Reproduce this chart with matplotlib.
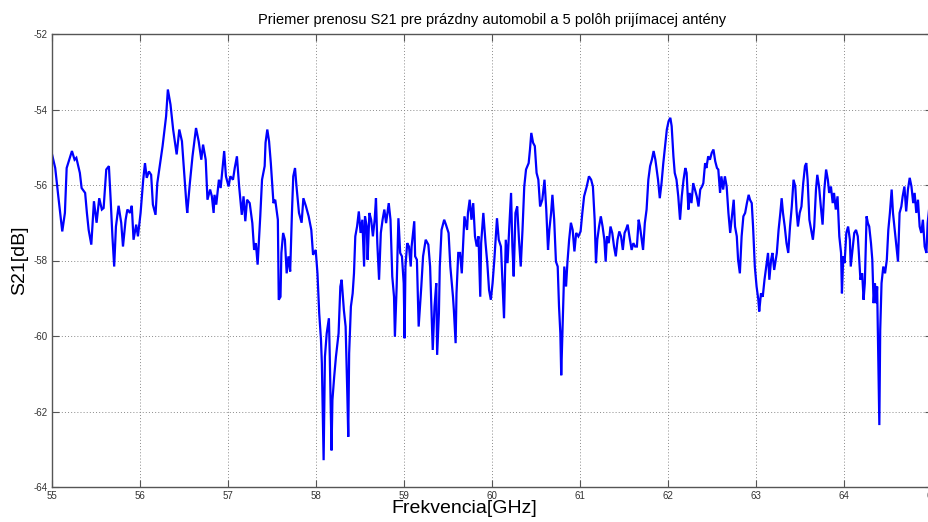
import matplotlib
matplotlib.use('Agg')
import matplotlib.pyplot as plt

# measured transfer S21, frequency [GHz] / magnitude [dB]
freq_ghz = [
    55.0, 55.04, 55.075, 55.12, 55.15, 55.17, 55.23, 55.26, 55.28, 55.32, 55.34, 55.38, 55.40, 55.42, 55.45,
    55.48, 55.51, 55.54, 55.57, 55.59, 55.62, 55.65, 55.67, 55.69, 55.71, 55.73, 55.76, 55.79, 55.81, 55.84,
    55.86, 55.89, 55.91, 55.93, 55.96, 55.98, 56.01, 56.04, 56.06, 56.08, 56.105, 56.13, 56.15, 56.18, 56.20,
    56.23, 56.26, 56.30, 56.32, 56.35, 56.38, 56.42, 56.45, 56.48, 56.50, 56.53, 56.54, 56.57, 56.60, 56.64,
    56.67, 56.70, 56.72, 56.75, 56.77, 56.80, 56.82, 56.84, 56.85, 56.87, 56.90, 56.92, 56.94, 56.96, 56.98,
    57.01, 57.03, 57.06, 57.08, 57.105, 57.13, 57.16, 57.18, 57.20, 57.22, 57.25, 57.28, 57.30, 57.32, 57.34,
    57.37, 57.39, 57.42, 57.43, 57.45, 57.47, 57.49, 57.52, 57.54, 57.57, 57.58, 57.60, 57.61, 57.63, 57.65,
    57.67, 57.69, 57.71, 57.73, 57.745, 57.765, 57.78, 57.81, 57.84, 57.86, 57.89, 57.92, 57.95, 57.97, 58.0,
    58.02, 58.04, 58.06, 58.07, 58.09, 58.105, 58.125, 58.15, 58.16, 58.18, 58.19, 58.21, 58.23, 58.26, 58.28,
    58.295, 58.32, 58.34, 58.36, 58.37, 58.38, 58.40, 58.42, 58.435, 58.45, 58.47, 58.49, 58.51, 58.53, 58.55,
    58.56, 58.58, 58.59, 58.61, 58.63, 58.65, 58.67, 58.685, 58.70, 58.72, 58.74, 58.76, 58.78, 58.80, 58.82,
    58.83, 58.85, 58.87, 58.89, 58.90, 58.92, 58.94, 58.96, 58.98, 59.0, 59.01, 59.02, 59.04, 59.06, 59.08,
    59.09, 59.12, 59.13, 59.15, 59.17, 59.20, 59.22, 59.25, 59.28, 59.30, 59.32, 59.33, 59.35, 59.37, 59.38,
    59.40, 59.41, 59.43, 59.46, 59.48, 59.51, 59.53, 59.56, 59.57, 59.59, 59.60, 59.62, 59.64, 59.66, 59.68,
    59.69, 59.72, 59.73, 59.75, 59.77, 59.79, 59.81, 59.83, 59.85, 59.87, 59.88, 59.905, 59.93, 59.95, 59.97,
    59.99, 60.01, 60.03, 60.045, 60.06, 60.08, 60.105, 60.12, 60.14, 60.16, 60.18, 60.20, 60.22, 60.235, 60.25,
    60.27, 60.29, 60.31, 60.33, 60.35, 60.37, 60.39, 60.42, 60.435, 60.45, 60.47, 60.49, 60.51, 60.53, 60.55,
    60.575, 60.60, 60.62, 60.64, 60.655, 60.675, 60.69, 60.71, 60.73, 60.75, 60.765, 60.78, 60.79, 60.81, 60.825,
    60.845, 60.86, 60.88, 60.90, 60.92, 60.94, 60.96, 60.985, 61.01, 61.03, 61.05, 61.08, 61.105, 61.13, 61.15,
    61.17, 61.185, 61.20, 61.22, 61.24, 61.26, 61.28, 61.295, 61.31, 61.33, 61.35, 61.37, 61.39, 61.41, 61.43,
    61.45, 61.47, 61.49, 61.51, 61.525, 61.545, 61.565, 61.59, 61.61, 61.63, 61.65, 61.67, 61.685, 61.70, 61.72,
    61.74, 61.76, 61.78, 61.80, 61.82, 61.84, 61.86, 61.875, 61.89, 61.91, 61.93, 61.95, 61.97, 61.99, 62.01,
    62.03, 62.045, 62.065, 62.08, 62.10, 62.12, 62.14, 62.16, 62.18, 62.20, 62.215, 62.235, 62.25, 62.27, 62.29,
    62.31, 62.33, 62.35, 62.37, 62.39, 62.405, 62.425, 62.44, 62.46, 62.48, 62.50, 62.52, 62.54, 62.56, 62.575,
    62.595, 62.61, 62.63, 62.65, 62.67, 62.69, 62.71, 62.73, 62.75, 62.765, 62.785, 62.80, 62.82, 62.84, 62.86,
    62.88, 62.90, 62.92, 62.935, 62.955, 62.97, 62.99, 63.01, 63.03, 63.04, 63.06, 63.08, 63.10, 63.12, 63.14,
    63.155, 63.175, 63.19, 63.21, 63.24, 63.26, 63.28, 63.295, 63.31, 63.33, 63.35, 63.37, 63.39, 63.41, 63.43,
    63.45, 63.465, 63.48, 63.50, 63.52, 63.54, 63.56, 63.575, 63.59, 63.61, 63.63, 63.65, 63.665, 63.685, 63.70,
    63.72, 63.74, 63.76, 63.78, 63.80, 63.82, 63.835, 63.855, 63.875, 63.89, 63.91, 63.93, 63.95, 63.97, 63.98,
    63.995, 64.01, 64.03, 64.05, 64.07, 64.08, 64.10, 64.12, 64.14, 64.16, 64.17, 64.19, 64.21, 64.226, 64.24,
    64.26, 64.275, 64.29, 64.31, 64.325, 64.34, 64.355, 64.37, 64.38, 64.393, 64.405, 64.415, 64.43, 64.45, 64.47,
    64.49, 64.507, 64.525, 64.545, 64.56, 64.58, 64.60, 64.617, 64.635, 64.655, 64.67, 64.69, 64.71, 64.73, 64.75,
    64.77, 64.79, 64.806, 64.825, 64.844, 64.863, 64.882, 64.90, 64.92, 64.94, 64.954, 64.97, 65.0,
]
s21_db = [
    -55.15, -55.55, -56.3, -57.23, -56.74, -55.55, -55.1, -55.33, -55.28, -55.68, -56.08, -56.21, -56.74, -57.19, -57.58,
    -56.43, -57.0, -56.35, -56.65, -56.61, -55.59, -55.5, -56.39, -57.36, -58.16, -57.1, -56.55, -57.0, -57.63, -56.92,
    -56.65, -56.74, -56.55, -57.45, -57.05, -57.36, -56.74, -55.86, -55.42, -55.81, -55.64, -55.73, -56.52, -56.79, -55.95,
    -55.46, -54.97, -54.18, -53.47, -53.87, -54.53, -55.19, -54.53, -54.84, -55.5, -56.48, -56.74, -55.95, -55.24, -54.49,
    -54.84, -55.33, -54.93, -55.33, -56.39, -56.12, -56.3, -56.74, -56.26, -56.52, -55.86, -56.08, -55.59, -55.1, -55.77,
    -56.04, -55.77, -55.86, -55.55, -55.24, -56.04, -56.79, -56.3, -56.96, -56.39, -56.48, -57.01, -57.72, -57.54, -58.11,
    -56.83, -55.86, -55.5, -54.88, -54.53, -54.84, -55.42, -56.48, -56.39, -56.92, -59.04, -58.96, -57.8, -57.27, -57.45,
    -58.34, -57.89, -58.29, -56.74, -55.77, -55.55, -55.99, -56.74, -57.0, -56.35, -56.57, -56.83, -57.19, -57.85, -57.72,
    -58.34, -59.4, -60.1, -60.73, -63.29, -60.55, -59.93, -59.53, -60.55, -63.03, -61.7, -61.08, -60.55, -59.93, -58.69,
    -58.51, -59.31, -59.75, -61.61, -62.67, -60.46, -59.22, -58.87, -58.34, -57.36, -57.1, -56.7, -57.27, -56.92, -58.16,
    -56.83, -57.1, -57.98, -56.74, -56.92, -57.36, -56.92, -56.35, -57.54, -58.51, -57.27, -56.92, -56.65, -57.01, -56.65,
    -56.48, -56.92, -58.42, -58.96, -60.02, -58.69, -56.88, -57.8, -57.89, -58.6, -60.06, -58.16, -57.54, -57.63, -58.16,
    -57.63, -56.96, -57.89, -57.98, -59.75, -58.69, -57.89, -57.45, -57.58, -58.16, -59.58, -60.37, -59.22, -58.6, -60.5,
    -59.4, -58.16, -57.19, -56.92, -57.05, -57.27, -58.16, -58.96, -59.31, -60.19, -58.87, -57.8, -57.8, -58.34, -57.36,
    -56.83, -57.19, -56.74, -56.39, -56.92, -56.48, -57.36, -57.63, -57.36, -58.96, -57.54, -56.74, -57.54, -58.07, -58.78,
    -59.04, -58.6, -57.98, -57.45, -56.88, -57.45, -57.63, -58.42, -59.53, -57.45, -58.07, -57.1, -56.21, -57.63, -58.42,
    -56.74, -56.57, -57.45, -58.16, -57.19, -56.04, -55.59, -55.42, -55.06, -54.62, -54.88, -54.97, -55.68, -55.86, -56.57,
    -56.39, -55.86, -56.65, -57.72, -57.19, -56.74, -56.26, -56.92, -58.03, -58.16, -59.22, -59.93, -61.04, -59.4, -58.16,
    -58.69, -58.07, -57.45, -57.0, -57.19, -57.76, -57.27, -57.36, -57.23, -56.74, -56.3, -56.04, -55.77, -55.86, -56.04,
    -56.92, -58.07, -57.45, -57.1, -56.83, -57.1, -57.45, -58.03, -57.36, -57.54, -57.1, -57.27, -57.63, -57.89, -57.45,
    -57.23, -57.36, -57.72, -57.27, -57.19, -57.05, -57.36, -57.72, -57.54, -57.63, -57.63, -56.92, -57.1, -57.36, -57.72,
    -57.01, -56.65, -55.86, -55.5, -55.33, -55.1, -55.33, -55.59, -55.86, -56.35, -55.95, -55.42, -54.97, -54.53, -54.31,
    -54.22, -54.44, -55.24, -55.68, -55.86, -56.3, -56.92, -56.3, -55.86, -55.55, -55.68, -56.65, -56.21, -56.48, -55.95,
    -56.12, -56.3, -56.57, -56.12, -56.04, -55.95, -55.42, -55.55, -55.24, -55.33, -55.15, -55.06, -55.37, -55.55, -55.59,
    -56.21, -55.77, -56.12, -55.77, -56.04, -56.74, -57.27, -56.83, -56.39, -57.1, -57.36, -57.98, -58.34, -57.36, -56.83,
    -56.74, -56.48, -56.26, -56.39, -56.48, -57.1, -58.16, -58.69, -59.04, -59.35, -58.87, -58.96, -58.51, -58.16, -57.8,
    -58.51, -57.98, -57.8, -58.25, -57.8, -57.19, -56.74, -56.35, -56.74, -57.1, -57.54, -57.8, -57.1, -56.57, -55.86,
    -56.04, -56.7, -57.1, -56.74, -56.57, -55.95, -55.5, -55.42, -55.86, -56.92, -57.19, -57.45, -57.1, -56.12, -55.73,
    -56.04, -56.57, -57.05, -56.12, -55.59, -55.86, -56.21, -56.04, -56.48, -56.21, -56.65, -56.3, -57.36, -57.8, -58.87,
    -57.89, -58.07, -57.27, -57.1, -57.45, -58.16, -57.72, -57.27, -57.19, -57.36, -57.72, -58.51, -58.34, -59.04, -58.6,
    -56.83, -57.01, -57.1, -57.54, -57.98, -59.13, -58.6, -59.13, -58.69, -60.64, -62.36, -59.84, -58.6, -58.16, -58.34,
    -57.98, -57.19, -56.74, -56.12, -56.74, -57.19, -57.63, -58.03, -56.74, -56.57, -56.3, -56.04, -56.7, -56.12, -55.81,
    -56.04, -56.48, -56.21, -56.74, -56.39, -57.1, -57.27, -56.92, -57.63, -57.8, -57.01, -56.65, -57.3,
]

x_ticks = [55, 56, 57, 58, 59, 60, 61, 62, 63, 64, 65]
y_ticks = [-64, -62, -60, -58, -56, -54, -52]

plt.rcParams['font.family'] = ['Liberation Sans', 'DejaVu Sans']
plt.rcParams['axes.unicode_minus'] = False

fig = plt.figure(figsize=(9.29, 5.22), dpi=100)
# axes run a little past the right edge of the canvas
ax = fig.add_axes([51.7 / 929, 35 / 522, 880 / 929, 453 / 522])

ax.plot(freq_ghz, s21_db, color='#0000ff', lw=1.6, solid_joinstyle='miter')

ax.set_xlim(55, 65)
ax.set_ylim(-64, -52)
ax.set_xticks(x_ticks)
ax.set_yticks(y_ticks)
ax.grid(True, color='#8a8a8a', linestyle=(0, (1, 2.2)), lw=0.7)

for side in ax.spines.values():
    side.set_color('#555555')
    side.set_linewidth(1.0)
ax.tick_params(direction='in', length=5, width=0.8, color='#555555',
               top=True, right=True, labelsize=7, labelcolor='#333333', pad=3)

ax.set_title('Priemer prenosu S21 pre prázdny automobil a 5 polôh prijímacej antény',
             fontsize=10.5, pad=7)
ax.set_xlabel('Frekvencia[GHz]', fontsize=14)
ax.set_ylabel('S21[dB]', fontsize=14)
ax.xaxis.set_label_coords(0.5 - 27 / 880, -13 / 453)
ax.yaxis.set_label_coords(-24 / 880, 0.5)

fig.savefig('out.png', dpi=100)
